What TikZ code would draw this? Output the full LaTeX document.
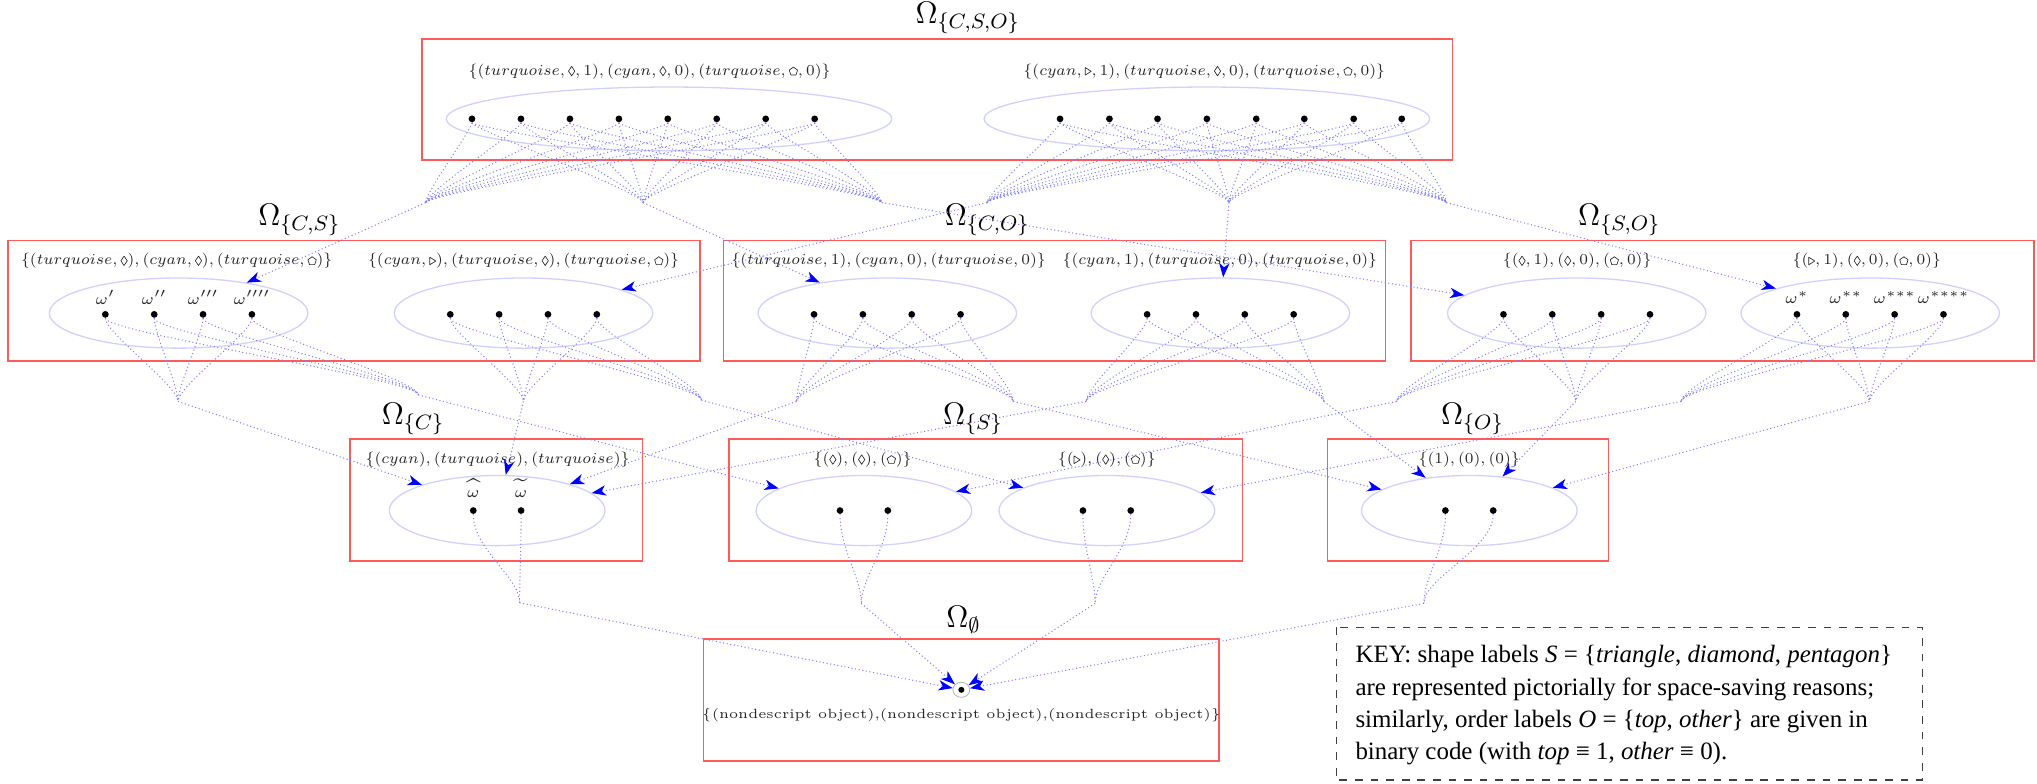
\documentclass[tikz,border=0pt]{standalone}
\usepackage{fontspec}
\usetikzlibrary{shapes.geometric,arrows.meta}
\newfontfamily\keyfont{Liberation Serif}
\newcommand{\pent}{\mathord{\tikz[baseline=-1.75pt]\draw[black!85,line width=0.3pt,line join=round](90:2pt)--(162:2pt)--(234:2pt)--(306:2pt)--(18:2pt)--cycle;}}
\newcommand{\dia}{\mathord{\tikz[baseline=-1.9pt]\draw[black!85,line width=0.3pt,line join=round](0,2.15pt)--(1.45pt,0)--(0,-2.15pt)--(-1.45pt,0)--cycle;}}
\newcommand{\tri}{\mathord{\tikz[baseline=-1.8pt]\draw[black!85,line width=0.3pt,line join=round](-1.15pt,1.75pt)--(1.6pt,0)--(-1.15pt,-1.75pt)--cycle;}}
\newcommand{\lblsz}[1]{\scalebox{0.84}{#1}}
\tikzset{
  grpbox/.style={draw=red!65, line width=0.6pt},
  ttl/.style={font=\large, anchor=south, inner sep=0pt},
  setlbl/.style={font=\scriptsize, text=black!85, inner sep=0pt},
  ellbase/.style={ellipse, draw=blue!18, line width=0.5pt, inner sep=0pt},
  bigell/.style={ellbase, minimum width=171.5pt, minimum height=24.5pt},
  midell/.style={ellbase, minimum width=99.5pt, minimum height=27pt},
  lowell/.style={ellbase, minimum width=83pt, minimum height=27pt},
  dotn/.style={circle, fill=black, inner sep=0pt, minimum size=2.6pt},
  wire/.style={blue!50, densely dotted, line width=0.4pt},
  arr/.style={wire, -{Stealth[length=5.5pt,width=4pt,inset=1.6pt,blue]}},
  omlbl/.style={font=\fontsize{5.8}{7}\selectfont, inner sep=0pt, text=black!85},
  keyline/.style={anchor=base west, inner sep=0pt, font=\keyfont\fontsize{9.6}{12.5}\selectfont}
}
\begin{document}
\begin{tikzpicture}[x=0.5pt,y=-0.5pt]
\useasboundingbox (0,0) rectangle (1568,603);
\fill[white] (0,0) rectangle (1568,603);

% group boxes
\draw[grpbox] (325,30) rectangle (1118,123);
\draw[grpbox] (6,185) rectangle (539,278);
\draw[grpbox] (557,185) rectangle (1066.5,278);
\draw[grpbox] (1086,185) rectangle (1565.5,278);
\draw[grpbox] (269.5,338) rectangle (494.4,432);
\draw[grpbox] (561,338) rectangle (956.4,432);
\draw[grpbox] (1021.8,338) rectangle (1238,432);
\draw[grpbox] (541.5,492) rectangle (938.4,585.8);

% titles
\node[ttl] (tCSO) at (745,26) {$\Omega_{\{C,S,O\}}$};
\node[ttl] (tCS) at (230.5,182) {$\Omega_{\{C,S\}}$};
\node[ttl] (tCO) at (760,182) {$\Omega_{\{C,O\}}$};
\node[ttl] (tSO) at (1246.5,182) {$\Omega_{\{S,O\}}$};
\node[ttl] (tC) at (318,335) {$\Omega_{\{C\}}$};
\node[ttl] (tS) at (749,335) {$\Omega_{\{S\}}$};
\node[ttl] (tO) at (1133.5,335) {$\Omega_{\{O\}}$};
\node[ttl] (tE) at (741.7,488) {$\Omega_{\emptyset}$};

% ellipses
\node[bigell] (TL) at (515,91.5) {};
\node[bigell] (TR) at (929,91.5) {};
\node[midell] (CSL) at (137.5,241) {};
\node[midell] (CSR) at (403,241) {};
\node[midell] (COL) at (683,241) {};
\node[midell] (COR) at (939.4,241) {};
\node[midell] (SOL) at (1213.7,241) {};
\node[midell] (SOR) at (1439.6,241) {};
\node[lowell] (C) at (382.7,393) {};
\node[lowell] (SL) at (665,393) {};
\node[lowell] (SR) at (852,393) {};
\node[lowell] (O) at (1131,393) {};
\node[ellipse, draw=black!30, line width=0.3pt, minimum width=6.5pt, minimum height=5.8pt, inner sep=0pt] (E) at (740,531) {};

% set labels
\node[setlbl] (lTL) at (500,55) {\lblsz{$\{(turquoise,\dia,1),(cyan,\dia,0),(turquoise,\pent,0)\}$}};
\node[setlbl] (lTR) at (927,55) {\lblsz{$\{(cyan,\tri,1),(turquoise,\dia,0),(turquoise,\pent,0)\}$}};
\node[setlbl] (lCSL) at (136,201) {\lblsz{$\{(turquoise,\dia),(cyan,\dia),(turquoise,\pent)\}$}};
\node[setlbl] (lCSR) at (403,201) {\lblsz{$\{(cyan,\tri),(turquoise,\dia),(turquoise,\pent)\}$}};
\node[setlbl] (lCOL) at (684,201) {\lblsz{$\{(turquoise,1),(cyan,0),(turquoise,0)\}$}};
\node[setlbl] (lCOR) at (939,201) {\lblsz{$\{(cyan,1),(turquoise,0),(turquoise,0)\}$}};
\node[setlbl] (lSOL) at (1214,201) {\lblsz{$\{(\dia,1),(\dia,0),(\pent,0)\}$}};
\node[setlbl] (lSOR) at (1437,201) {\lblsz{$\{(\tri,1),(\dia,0),(\pent,0)\}$}};
\node[setlbl] (lC) at (383,354) {\lblsz{$\{(cyan),(turquoise),(turquoise)\}$}};
\node[setlbl] (lSL) at (664,354) {\lblsz{$\{(\dia),(\dia),(\pent)\}$}};
\node[setlbl] (lSR) at (852,354) {\lblsz{$\{(\tri),(\dia),(\pent)\}$}};
\node[setlbl] (lO) at (1131,354) {\lblsz{$\{(1),(0),(0)\}$}};
\node[setlbl, font=\fontsize{5.15}{6.5}\selectfont] (lE) at (740,550.5) {\{(nondescript object),(nondescript object),(nondescript object)\}};

% dots
\foreach \x [count=\k] in {363.3,401,438.7,476.4,514,551.7,589.4,627.1}
  \node[dotn] (tl\k) at (\x,91.5) {};
\foreach \x [count=\k] in {816,854,891,929,967,1004,1042,1079}
  \node[dotn] (tr\k) at (\x,91.5) {};
\foreach \nm/\cx in {CSL/137.5,CSR/403,COL/683,COR/939.4,SOL/1213.7,SOR/1439.6}
  \foreach \d [count=\k] in {-56.4,-18.8,18.8,56.4}
    \node[dotn] (\nm\k) at ({\cx+(\d)},242) {};
\foreach \nm/\cx in {C/382.7,SL/665,SR/852,O/1131}
  \foreach \d [count=\k] in {-18.4,18.4}
    \node[dotn] (\nm\k) at ({\cx+(\d)},393) {};
\node[dotn, minimum size=2.3pt] (Ed) at (740,531) {};

% omega labels
\node[omlbl] (w1) at (81.1,229) {$\omega'$};
\node[omlbl] (w2) at (118.7,229) {$\omega''$};
\node[omlbl] (w3) at (156.3,229) {$\omega'''$};
\node[omlbl] (w4) at (193.9,229) {$\omega''''$};
\node[omlbl] (ws1) at (1383.2,229) {$\omega^{*}$};
\node[omlbl] (ws2) at (1420.8,229) {$\omega^{**}$};
\node[omlbl] (ws3) at (1458.4,229) {$\omega^{***}$};
\node[omlbl] (ws4) at (1496,229) {$\omega^{****}$};
\node[omlbl, anchor=base] (wh) at (364.3,383) {$\widehat{\omega}$};
\node[omlbl, anchor=base] (wt) at (401.1,383) {$\widetilde{\omega}$};

% merge points
\coordinate (mTL1) at (327.6,156);
\coordinate (mTL2) at (495,156);
\coordinate (mTL3) at (678.7,156);
\coordinate (mTR1) at (759.7,156);
\coordinate (mTR2) at (946,156);
\coordinate (mTR3) at (1113.4,156);
\coordinate (mCSLa) at (137,309);
\coordinate (mCSLb) at (322,304);
\coordinate (mCSRa) at (403,309);
\coordinate (mCSRb) at (540,308);
\coordinate (mCOLa) at (613,309);
\coordinate (mCOLb) at (780,309);
\coordinate (mCORa) at (836,309);
\coordinate (mCORb) at (1019,309);
\coordinate (mSOLa) at (1075,309);
\coordinate (mSOLb) at (1213,309);
\coordinate (mSORa) at (1294,309);
\coordinate (mSORb) at (1439,309);
\coordinate (mC) at (400,464);
\coordinate (mSL) at (663,464.5);
\coordinate (mSR) at (843,464.5);
\coordinate (mO) at (1096,464.5);

% wires: top level
\foreach \k in {1,...,8}{
  \foreach \m in {mTL1,mTL2,mTL3}
    \draw[wire] (tl\k) .. controls +(0,8) and +(0,-8) .. (\m);
  \foreach \m in {mTR1,mTR2,mTR3}
    \draw[wire] (tr\k) .. controls +(0,8) and +(0,-8) .. (\m);
}
\draw[arr] (mTL1) -- (CSL);
\draw[arr] (mTL2) -- (COL);
\draw[arr] (mTL3) -- (SOL);
\draw[arr] (mTR1) -- (CSR);
\draw[arr] (mTR2) -- (COR);
\draw[arr] (mTR3) -- (SOR);

% wires: middle level
\foreach \nm in {CSL,CSR,COL,COR,SOL,SOR}
  \foreach \k in {1,...,4}
    \foreach \s in {a,b}
      \draw[wire] (\nm\k) .. controls +(0,14) and +(0,-12) .. (m\nm\s);
\draw[arr] (mCSLa) -- (C);
\draw[arr] (mCSLb) -- (SL);
\draw[arr] (mCSRa) -- (C);
\draw[arr] (mCSRb) -- (SR);
\draw[arr] (mCOLa) -- (C);
\draw[arr] (mCOLb) -- (O);
\draw[arr] (mCORa) -- (C);
\draw[arr] (mCORb) -- (O);
\draw[arr] (mSOLa) -- (SL);
\draw[arr] (mSOLb) -- (O);
\draw[arr] (mSORa) -- (SR);
\draw[arr] (mSORb) -- (O);

% wires: lower level
\foreach \nm in {C,SL,SR,O}
  \foreach \k in {1,2}
    \draw[wire] (\nm\k) .. controls +(0,30) and +(0,-20) .. (m\nm);
\draw[arr] (mC) -- (E);
\draw[arr] (mSL) -- (E);
\draw[arr] (mSR) -- (E);
\draw[arr] (mO) -- (E);

% key
\draw[dashed, black!75, line width=0.5pt] (1028.5,483) rectangle (1479.6,600.5);
\node[keyline] (key1) at (1043,510) {KEY: shape labels \textit{S} = \{\textit{triangle}, \textit{diamond}, \textit{pentagon}\}};
\node[keyline] (key2) at (1043,535) {are represented pictorially for space-saving reasons;};
\node[keyline] (key3) at (1043,560) {similarly, order labels \textit{O} = \{\textit{top}, \textit{other}\} are given in};
\node[keyline] (key4) at (1043,585) {binary code (with \textit{top} ≡ 1, \textit{other} ≡ 0).};
\end{tikzpicture}
\end{document}
